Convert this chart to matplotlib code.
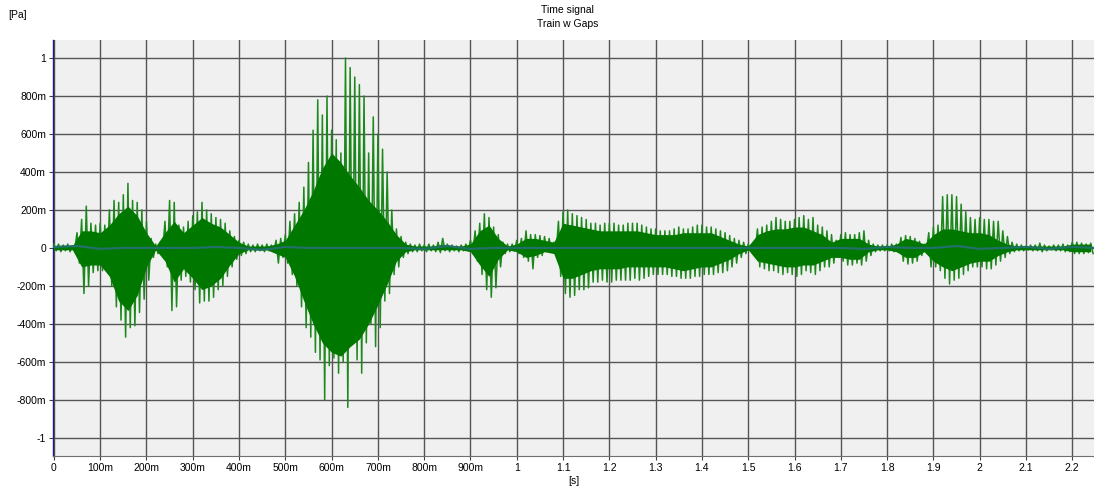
import numpy as np
import matplotlib
matplotlib.use("Agg")
import matplotlib.pyplot as plt

# peak envelope of the pressure signal, one pair of values per 10 ms (0 .. 2.24 s)
peak_hi = [
    0.02, 0.02, 0.015, 0.02, 0.01, 0.08, 0.15, 0.22, 0.13, 0.12,
    0.13, 0.12, 0.20, 0.25, 0.24, 0.28, 0.34, 0.25, 0.24, 0.20,
    0.14, 0.05, 0.02, 0.03, 0.14, 0.25, 0.24, 0.12, 0.11, 0.14,
    0.17, 0.19, 0.24, 0.20, 0.18, 0.16, 0.15, 0.13, 0.09, 0.06,
    0.04, 0.03, 0.02, 0.015, 0.02, 0.015, 0.02, 0.015, 0.04, 0.05,
    0.07, 0.14, 0.18, 0.24, 0.32, 0.45, 0.62, 0.78, 0.70, 0.80,
    0.62, 0.57, 0.50, 1.00, 0.95, 0.90, 0.86, 0.80, 0.50, 0.69,
    0.60, 0.52, 0.40, 0.20, 0.10, 0.06, 0.03, 0.02, 0.015, 0.02,
    0.015, 0.02, 0.015, 0.03, 0.05, 0.02, 0.015, 0.01, 0.015, 0.02,
    0.04, 0.09, 0.13, 0.18, 0.16, 0.11, 0.07, 0.03, 0.02, 0.02,
    0.04, 0.05, 0.09, 0.07, 0.07, 0.065, 0.06, 0.05, 0.03, 0.14,
    0.19, 0.20, 0.18, 0.17, 0.16, 0.15, 0.13, 0.13, 0.12, 0.13,
    0.13, 0.13, 0.12, 0.12, 0.13, 0.13, 0.13, 0.12, 0.11, 0.10,
    0.10, 0.09, 0.09, 0.09, 0.10, 0.11, 0.10, 0.10, 0.11, 0.12,
    0.12, 0.11, 0.11, 0.10, 0.09, 0.08, 0.065, 0.05, 0.04, 0.03,
    0.02, 0.02, 0.10, 0.11, 0.12, 0.14, 0.16, 0.15, 0.14, 0.14,
    0.15, 0.16, 0.17, 0.15, 0.16, 0.12, 0.11, 0.09, 0.07, 0.04,
    0.07, 0.08, 0.07, 0.07, 0.08, 0.09, 0.04, 0.02, 0.015, 0.015,
    0.015, 0.02, 0.02, 0.055, 0.065, 0.06, 0.05, 0.035, 0.02, 0.08,
    0.11, 0.12, 0.27, 0.28, 0.28, 0.27, 0.23, 0.19, 0.16, 0.15,
    0.16, 0.15, 0.15, 0.14, 0.14, 0.09, 0.06, 0.03, 0.02, 0.015,
    0.01, 0.015, 0.015, 0.025, 0.015, 0.01, 0.015, 0.015, 0.02, 0.015,
    0.03, 0.03, 0.025, 0.02, 0.025,
]
peak_lo = [
    -0.015, -0.02, -0.015, -0.02, -0.01, -0.08, -0.24, -0.20, -0.13, -0.12,
    -0.12, -0.11, -0.20, -0.31, -0.38, -0.47, -0.42, -0.41, -0.34, -0.27,
    -0.17, -0.05, -0.03, -0.02, -0.10, -0.33, -0.31, -0.17, -0.15, -0.18,
    -0.22, -0.29, -0.28, -0.28, -0.26, -0.22, -0.20, -0.15, -0.10, -0.06,
    -0.04, -0.03, -0.02, -0.02, -0.015, -0.02, -0.015, -0.02, -0.08, -0.05,
    -0.08, -0.14, -0.20, -0.31, -0.42, -0.47, -0.55, -0.59, -0.80, -0.62,
    -0.58, -0.66, -0.60, -0.84, -0.44, -0.59, -0.66, -0.50, -0.40, -0.52,
    -0.42, -0.28, -0.24, -0.14, -0.10, -0.05, -0.03, -0.02, -0.02, -0.015,
    -0.02, -0.015, -0.02, -0.025, -0.015, -0.02, -0.015, -0.02, -0.015, -0.015,
    -0.03, -0.07, -0.14, -0.22, -0.26, -0.21, -0.10, -0.03, -0.02, -0.015,
    -0.03, -0.05, -0.07, -0.11, -0.05, -0.04, -0.02, -0.02, -0.03, -0.15,
    -0.24, -0.26, -0.25, -0.22, -0.22, -0.21, -0.18, -0.18, -0.17, -0.18,
    -0.18, -0.17, -0.17, -0.17, -0.17, -0.16, -0.17, -0.16, -0.15, -0.14,
    -0.14, -0.14, -0.14, -0.15, -0.15, -0.16, -0.16, -0.16, -0.15, -0.15,
    -0.14, -0.14, -0.14, -0.13, -0.13, -0.12, -0.10, -0.08, -0.05, -0.03,
    -0.01, -0.02, -0.10, -0.11, -0.12, -0.12, -0.13, -0.14, -0.13, -0.14,
    -0.15, -0.14, -0.12, -0.13, -0.14, -0.12, -0.10, -0.10, -0.08, -0.05,
    -0.07, -0.09, -0.09, -0.08, -0.09, -0.07, -0.04, -0.02, -0.015, -0.015,
    -0.015, -0.02, -0.02, -0.07, -0.085, -0.08, -0.07, -0.04, -0.02, -0.10,
    -0.10, -0.12, -0.16, -0.19, -0.17, -0.16, -0.14, -0.12, -0.10, -0.10,
    -0.10, -0.11, -0.11, -0.09, -0.07, -0.05, -0.03, -0.02, -0.015, -0.015,
    -0.01, -0.015, -0.015, -0.02, -0.015, -0.01, -0.015, -0.015, -0.02, -0.02,
    -0.03, -0.03, -0.03, -0.025, -0.03,
]

# dense band of the signal, one pair of values per 20 ms (0 .. 2.24 s)
core_hi = [
    0.01, 0.01, 0.01, 0.09, 0.09, 0.08, 0.12, 0.18, 0.22, 0.17,
    0.08, 0.01, 0.08, 0.14, 0.08, 0.12, 0.16, 0.13, 0.11, 0.07,
    0.03, 0.01, 0.01, 0.01, 0.02, 0.04, 0.12, 0.20, 0.30, 0.42,
    0.50, 0.45, 0.38, 0.32, 0.25, 0.20, 0.14, 0.07, 0.02, 0.01,
    0.01, 0.01, 0.02, 0.01, 0.01, 0.02, 0.09, 0.12, 0.05, 0.01,
    0.02, 0.05, 0.05, 0.04, 0.03, 0.13, 0.12, 0.11, 0.10, 0.09,
    0.09, 0.09, 0.09, 0.09, 0.08, 0.07, 0.07, 0.07, 0.08, 0.08,
    0.08, 0.08, 0.06, 0.04, 0.02, 0.01, 0.07, 0.09, 0.10, 0.10,
    0.11, 0.11, 0.09, 0.07, 0.03, 0.05, 0.05, 0.05, 0.02, 0.01,
    0.01, 0.02, 0.05, 0.04, 0.02, 0.07, 0.10, 0.10, 0.09, 0.08,
    0.08, 0.07, 0.04, 0.02, 0.01, 0.01, 0.01, 0.01, 0.01, 0.01,
    0.02, 0.02, 0.02,
]
core_lo = [
    -0.01, -0.01, -0.01, -0.10, -0.09, -0.09, -0.15, -0.28, -0.33, -0.25,
    -0.10, -0.01, -0.07, -0.18, -0.11, -0.16, -0.22, -0.20, -0.16, -0.09,
    -0.03, -0.01, -0.01, -0.01, -0.03, -0.05, -0.15, -0.28, -0.40, -0.50,
    -0.55, -0.57, -0.52, -0.48, -0.40, -0.30, -0.19, -0.07, -0.02, -0.01,
    -0.01, -0.01, -0.01, -0.01, -0.01, -0.02, -0.09, -0.15, -0.06, -0.01,
    -0.02, -0.05, -0.04, -0.02, -0.03, -0.16, -0.16, -0.14, -0.12, -0.11,
    -0.11, -0.11, -0.10, -0.10, -0.10, -0.10, -0.10, -0.11, -0.12, -0.11,
    -0.10, -0.10, -0.08, -0.06, -0.03, -0.01, -0.07, -0.08, -0.09, -0.10,
    -0.10, -0.09, -0.09, -0.07, -0.05, -0.05, -0.06, -0.06, -0.02, -0.01,
    -0.01, -0.02, -0.05, -0.05, -0.02, -0.07, -0.10, -0.12, -0.10, -0.08,
    -0.07, -0.07, -0.04, -0.02, -0.01, -0.01, -0.01, -0.01, -0.01, -0.01,
    -0.02, -0.02, -0.02,
]

# slow second trace, one value per 50 ms (0 .. 2.25 s)
slow = [
    0.005, 0.01, -0.005, 0.0, 0.0, 0.0, 0.0, 0.005, 0.0, -0.01,
    0.005, 0.0, 0.0, 0.0, 0.0, 0.0, -0.005, 0.01, -0.005, 0.0,
    0.0, 0.0, 0.0, 0.0, 0.0, 0.0, 0.0, 0.0, 0.0, 0.0,
    0.0, 0.0, 0.0, 0.0, 0.0, -0.005, 0.005, 0.0, 0.0, 0.01,
    -0.005, 0.0, 0.005, -0.005, 0.005, 0.0,
]

t_peak = np.arange(len(peak_hi)) * 0.010
t_core = np.arange(len(core_hi)) * 0.020
t_slow = np.arange(len(slow)) * 0.050

# alternate between the upper and lower peak every half step
zig_t = np.column_stack([t_peak, t_peak + 0.005]).ravel()
zig_v = np.column_stack([peak_hi, peak_lo]).ravel()

xticks = np.round(np.arange(0, 2.21, 0.1), 1)
xlabels = ["0"] + [f"{int(round(v * 1000))}m" for v in xticks[1:10]] + \
          [f"{v:g}" for v in xticks[10:]]
yticks = np.round(np.arange(-1.0, 1.01, 0.2), 1)
ylabels = []
for v in yticks:
    if abs(v) == 1:
        ylabels.append(f"{int(v)}")
    elif v == 0:
        ylabels.append("0")
    else:
        ylabels.append(f"{int(round(v * 1000))}m")

plt.rcParams["font.family"] = ["Liberation Sans", "DejaVu Sans"]

fig = plt.figure(figsize=(10.94, 4.87), dpi=100)
fig.patch.set_facecolor("white")
ax = fig.add_axes([0.0484, 0.0637, 0.9516, 0.8545])
ax.set_facecolor("#f0f0f0")

ax.plot(zig_t, zig_v, color="#1c881c", lw=1.1, zorder=3)
ax.fill_between(t_core, core_lo, core_hi, color="#007800", lw=0, zorder=4)
ax.plot(t_slow, slow, color="#22706a", lw=1.6, zorder=5)

ax.set_xlim(-0.002, 2.247)
ax.set_ylim(-1.096, 1.096)
ax.set_xticks(xticks)
ax.set_xticklabels(xlabels)
ax.set_yticks(yticks)
ax.set_yticklabels(ylabels)
ax.tick_params(axis="both", labelsize=7.5, length=3, width=0.8, color="#404040", pad=2)
ax.grid(True, color="#555555", lw=1.0, zorder=1)
ax.set_axisbelow(True)

for side in ["top", "right"]:
    ax.spines[side].set_visible(False)
ax.spines["left"].set_color("#1c1c80")
ax.spines["left"].set_linewidth(1.0)
ax.spines["bottom"].set_color("#707070")

fig.text(0.519, 0.979, "Time signal", ha="center", va="center", fontsize=7.5)
fig.text(0.519, 0.951, "Train w Gaps", ha="center", va="center", fontsize=7.5)
fig.text(0.016, 0.969, "[Pa]", ha="center", va="center", fontsize=7.5)
fig.text(0.525, 0.013, "[s]", ha="center", va="center", fontsize=7.5)

fig.savefig("out.png", dpi=100)
